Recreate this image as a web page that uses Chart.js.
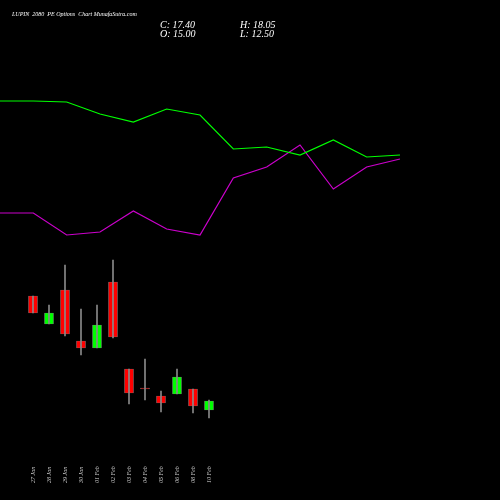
<!DOCTYPE html>
<html>
<head>
<script src="https://cdn.jsdelivr.net/npm/chart.js@4"></script>
<style>
  html, body { margin: 0; padding: 0; background: #000; }
  #wrap { width: 500px; height: 500px; }
</style>
</head>
<body>
<div id="wrap"><canvas id="chart"></canvas></div>
<script>
// dates under the candles
const dates = ["27 Jan", "28 Jan", "29 Jan", "30 Jan", "01 Feb", "02 Feb", "03 Feb", "04 Feb", "05 Feb", "06 Feb", "08 Feb", "10 Feb"];
// candle values (chart units, higher = up)
const opens  = [204, 176, 210, 159, 152, 218, 131, 112, 104, 106, 111, 90];
const closes = [187, 187, 166, 152, 175, 163, 107, 111, 97, 123, 94, 99];
const highs  = [204, 195, 235, 191, 195, 240, 131, 141, 109, 131, 111, 100];
const lows   = [187, 176, 164, 145, 152, 162, 96, 100, 88, 106, 87, 82];
// indicator lines
const greenLine   = [399, 399, 398, 386, 378, 391, 385, 351, 353, 345, 360, 343, 345];
const magentaLine = [287, 287, 265, 268, 289, 271, 265, 322, 333, 355, 311, 333, 341];

const candleX = dates.map((d, i) => i);

const bodies = candleX.map((x, i) => ({ x, y: [opens[i], closes[i] === opens[i] ? opens[i] - 1 : closes[i]] }));
const wicks = candleX.map((x, i) => ({ x, y: [lows[i], highs[i]] }));
const bodyColors = opens.map((o, i) => closes[i] > o ? "#00ff00" : "#ff0000");

const overlay = {
  id: "overlay",
  afterDraw(chart) {
    const c = chart.ctx;
    const xs = chart.scales.xc;
    c.save();
    c.fillStyle = "#ffffff";
    c.font = "italic 6px 'Liberation Serif'";
    c.textBaseline = "alphabetic";
    c.fillText("LUPIN  2080  PE Options  Chart MunafaSutra.com", 12, 16);
    c.font = "italic 10px 'Liberation Serif'";
    c.fillText("C: 17.40", 160, 28);
    c.fillText("O: 15.00", 160, 37);
    c.fillText("H: 18.05", 240, 28);
    c.fillText("L: 12.50", 240, 37);
    c.fillStyle = "#cccccc";
    c.font = "italic 6px 'Liberation Serif'";
    dates.forEach((d, i) => {
      c.save();
      c.translate(xs.getPixelForValue(i) + 2, 483);
      c.rotate(-Math.PI / 2);
      c.fillText(d, 0, 0);
      c.restore();
    });
    c.restore();
  }
};

new Chart(document.getElementById("chart"), {
  data: {
    datasets: [
      {
        type: "line",
        data: greenLine.map((v, i) => ({ x: i, y: v })),
        xAxisID: "xl",
        borderColor: "#00ff00",
        borderWidth: 1.2,
        pointRadius: 0,
        tension: 0,
      },
      {
        type: "line",
        data: magentaLine.map((v, i) => ({ x: i, y: v })),
        xAxisID: "xl",
        borderColor: "#cc00cc",
        borderWidth: 1.2,
        pointRadius: 0,
        tension: 0,
      },
      {
        type: "bar",
        data: wicks,
        xAxisID: "xc",
        backgroundColor: "#888888",
        barThickness: 1,
        grouped: false,
      },
      {
        type: "bar",
        data: bodies,
        xAxisID: "xc",
        backgroundColor: bodyColors,
        borderColor: "#777777",
        borderWidth: 0.6,
        borderSkipped: false,
        barThickness: 9,
        grouped: false,
      },
    ],
  },
  options: {
    responsive: true,
    maintainAspectRatio: false,
    animation: false,
    layout: { padding: 0 },
    plugins: { legend: { display: false }, tooltip: { enabled: false } },
    scales: {
      xl: { type: "linear", min: 0, max: 15, display: false },
      xc: { type: "linear", min: -2.0625, max: 29.1875, display: false, offset: false },
      y: { type: "linear", min: 0, max: 500, display: false },
    },
  },
  plugins: [overlay],
});
</script>
</body>
</html>
